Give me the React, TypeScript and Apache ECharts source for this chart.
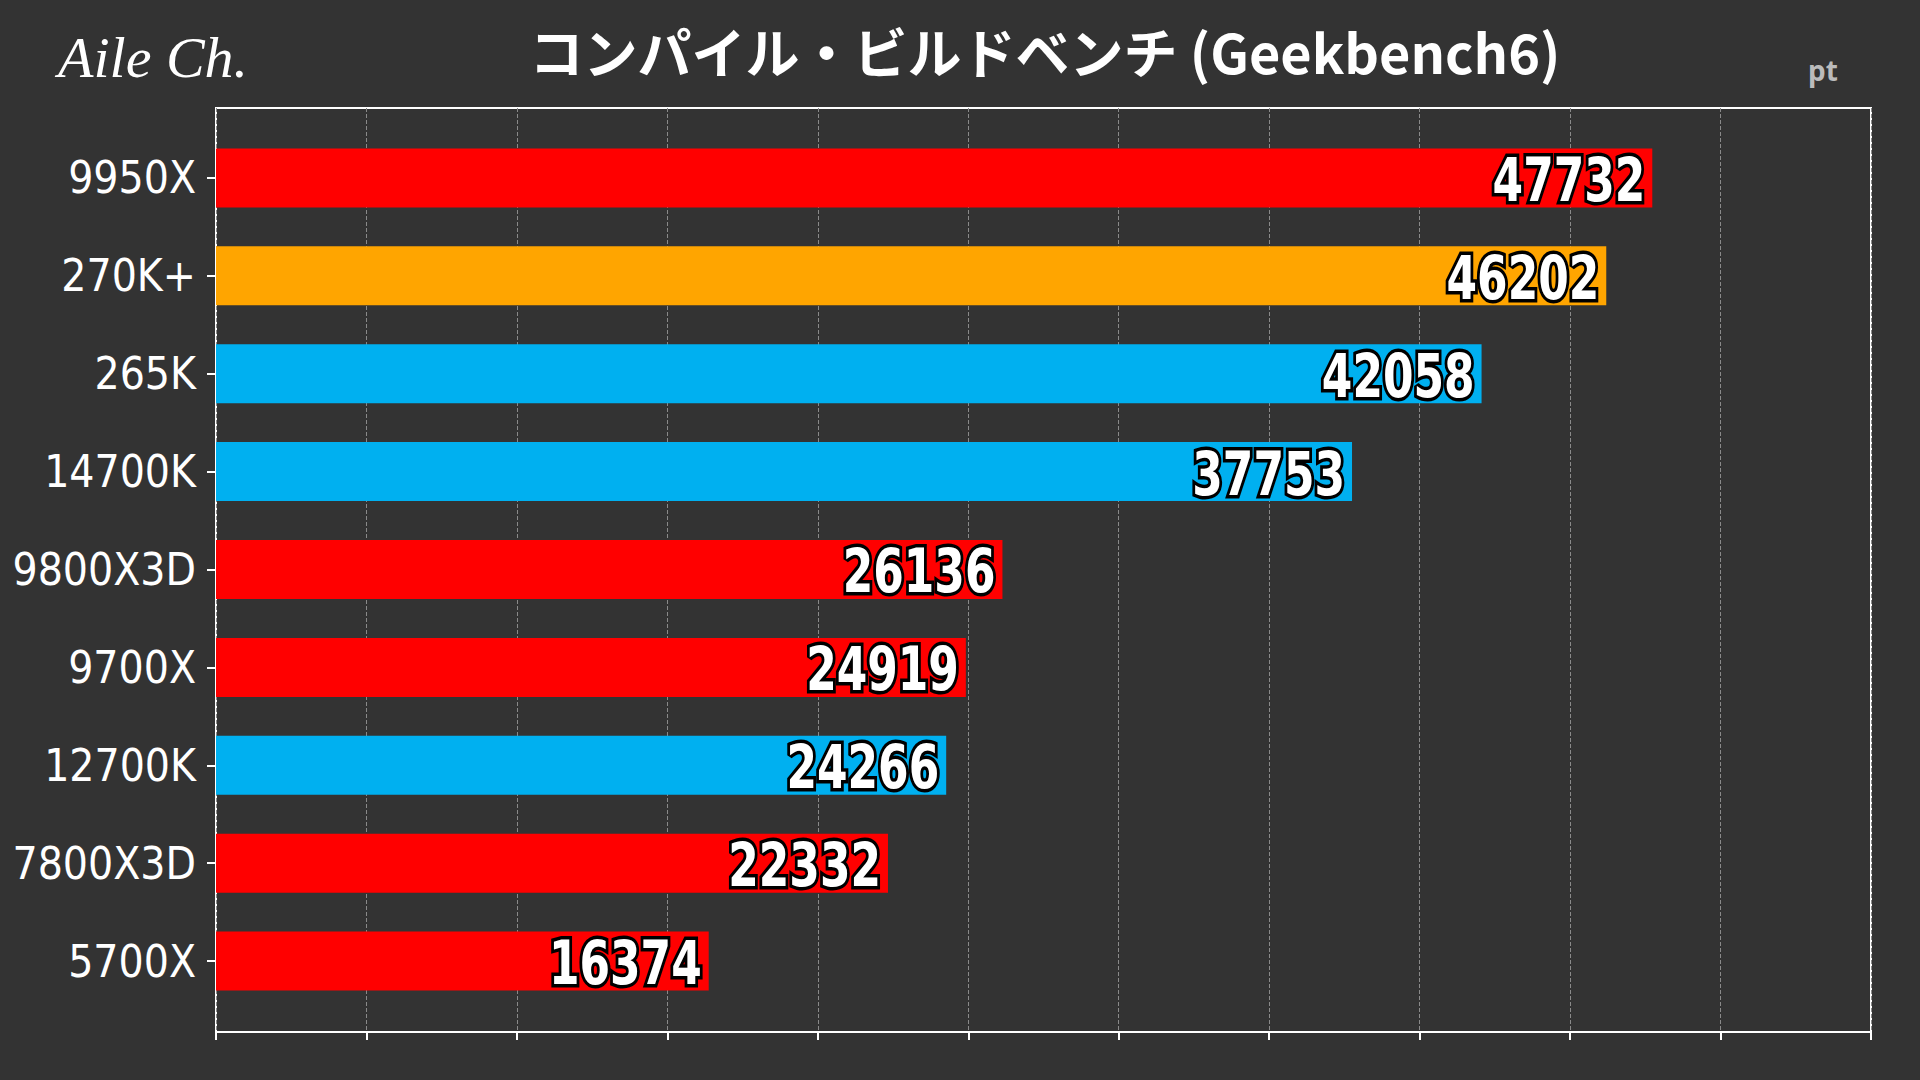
import { useEffect, useRef } from 'react';
import * as echarts from 'echarts';

const cpus = ['9950X', '270K+', '265K', '14700K', '9800X3D', '9700X', '12700K', '7800X3D', '5700X'];
const scores = [47732, 46202, 42058, 37753, 26136, 24919, 24266, 22332, 16374];
const brands = ['amd', 'arrow', 'intel', 'intel', 'amd', 'amd', 'intel', 'amd', 'amd'];

const brandColor: Record<string, string> = {
  amd: '#FF0000',
  arrow: '#FFA500',
  intel: '#00B0F0'
};

const BG = '#333333';
const NARROW = '"Liberation Sans Narrow", "DejaVu Sans Condensed", sans-serif';

const App = () => {
  const chartRef = useRef<HTMLDivElement>(null);

  useEffect(() => {
    document.body.style.margin = '0';
    if (!chartRef.current) return;
    const chart = echarts.init(chartRef.current, null, { renderer: 'svg' });

    const option = {
      animation: false,
      backgroundColor: BG,
      title: {
        text: 'コンパイル・ビルドベンチ (Geekbench6)',
        left: 1040,
        top: 18,
        textAlign: 'center',
        textStyle: {
          color: '#ffffff',
          fontSize: 54,
          fontWeight: 'bold',
          fontFamily: '"Noto Sans CJK JP", "Noto Sans", sans-serif'
        }
      },
      graphic: [
        {
          type: 'text',
          left: 58,
          top: 28,
          style: {
            text: 'Aile Ch.',
            fill: '#ffffff',
            font: 'italic 300 58px "Liberation Serif", serif'
          }
        },
        {
          type: 'text',
          left: 1808,
          top: 56,
          style: {
            text: 'pt',
            fill: '#bbbbbb',
            font: 'bold 28px "Noto Sans", sans-serif'
          }
        }
      ],
      grid: [
        // frame + value axis
        {
          left: 216, right: 49, top: 108, bottom: 48,
          show: true, borderColor: '#ffffff', borderWidth: 2, backgroundColor: 'transparent',
          containLabel: false, outerBoundsMode: 'none'
        },
        // bars
        { left: 216, right: 49, top: 129, bottom: 70, containLabel: false, outerBoundsMode: 'none' }
      ],
      xAxis: [
        {
          gridIndex: 0,
          type: 'value',
          min: 0,
          max: 55000,
          interval: 5000,
          axisLine: { show: true, lineStyle: { color: '#ffffff', width: 2 } },
          axisTick: { show: true, length: 8, lineStyle: { color: '#ffffff', width: 2 } },
          axisLabel: { show: false },
          splitLine: { show: true, lineStyle: { color: '#8a8a8a', type: 'dashed', width: 1 } }
        },
        {
          gridIndex: 1,
          type: 'value',
          min: 0,
          max: 55000,
          show: false
        }
      ],
      yAxis: [
        {
          gridIndex: 0,
          type: 'value',
          min: 0,
          max: 1,
          show: false
        },
        {
          gridIndex: 1,
          type: 'category',
          inverse: true,
          data: cpus,
          axisLine: { show: false },
          axisTick: { show: true, alignWithLabel: true, length: 9, lineStyle: { color: '#ffffff', width: 2 } },
          splitLine: { show: false },
          axisLabel: {
            color: '#ffffff',
            fontSize: 44,
            margin: 20,
            fontFamily: NARROW
          }
        }
      ],
      series: [
        {
          type: 'bar',
          xAxisIndex: 1,
          yAxisIndex: 1,
          barWidth: 59,
          data: scores.map((v, i) => ({ value: v, itemStyle: { color: brandColor[brands[i]] } }))
        },
        {
          // value labels, horizontally condensed
          type: 'custom',
          xAxisIndex: 1,
          yAxisIndex: 1,
          encode: { x: 0, y: 1 },
          data: scores.map((v, i) => [v, i]),
          z: 5,
          renderItem: (_params: any, api: any) => {
            const pt = api.coord([api.value(0), api.value(1)]);
            return {
              type: 'text',
              x: pt[0] - 7,
              y: pt[1] + 2,
              scaleX: 0.8,
              style: {
                text: String(api.value(0)),
                align: 'right',
                verticalAlign: 'middle',
                font: 'bold 61px ' + NARROW,
                fill: '#ffffff',
                stroke: '#000000',
                lineWidth: 7
              }
            };
          }
        }
      ]
    };

    chart.setOption(option);
    return () => chart.dispose();
  }, []);

  return <div ref={chartRef} style={{ width: '1920px', height: '1080px' }} />;
};

export default App;
